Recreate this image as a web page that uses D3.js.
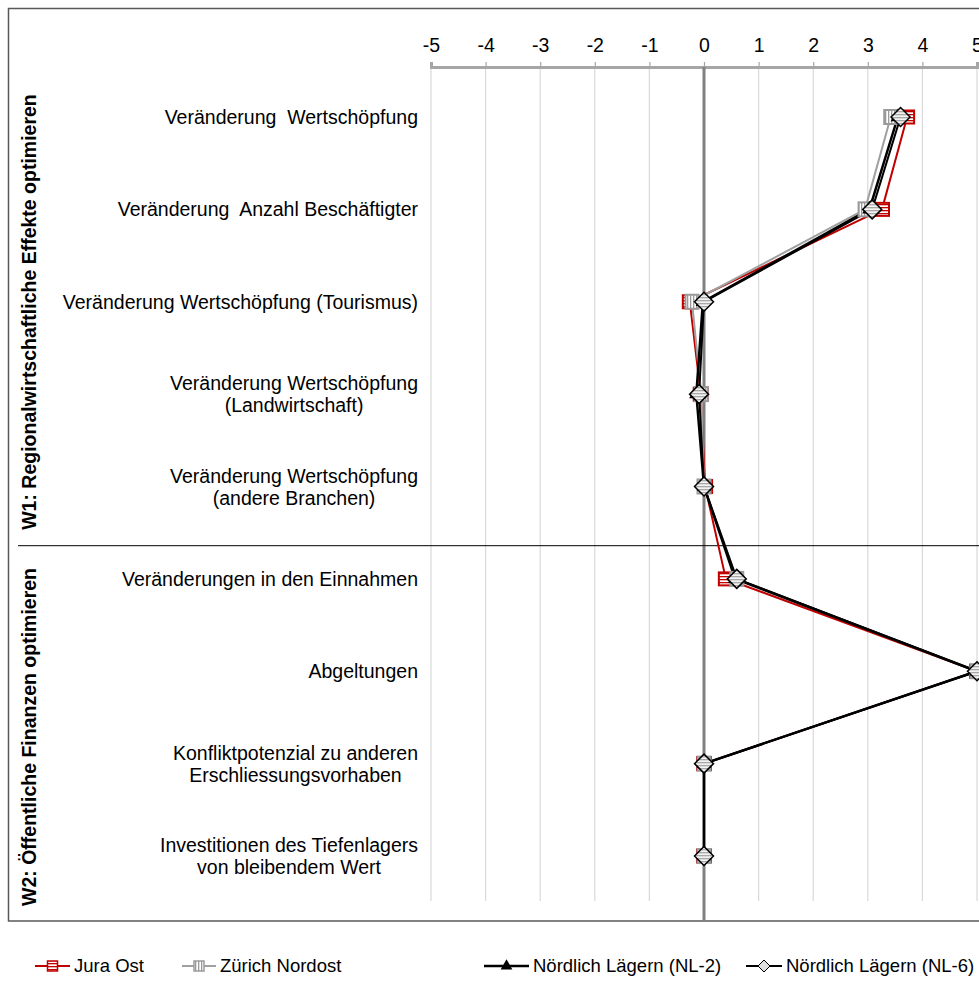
<!DOCTYPE html>
<html><head><meta charset="utf-8">
<script src="https://cdn.jsdelivr.net/npm/d3@7"></script>
<style>body{margin:0;background:#fff}svg{display:block}text{font-family:"Liberation Sans",Arial,sans-serif;fill:#000}</style>
</head><body><svg id="c" width="979" height="994"></svg>
<script>
const categories = [
  ["Veränderung  Wertschöpfung"],
  ["Veränderung  Anzahl Beschäftigter"],
  ["Veränderung Wertschöpfung (Tourismus)"],
  ["Veränderung Wertschöpfung","(Landwirtschaft)"],
  ["Veränderung Wertschöpfung","(andere Branchen)"],
  ["Veränderungen in den Einnahmen"],
  ["Abgeltungen"],
  ["Konfliktpotenzial zu anderen","Erschliessungsvorhaben"],
  ["Investitionen des Tiefenlagers","von bleibendem Wert"]
];
const groups = [
  {label:"W1: Regionalwirtschaftliche Effekte optimieren", first:0, last:4},
  {label:"W2: Öffentliche Finanzen optimieren", first:5, last:8}
];
const seriesNames = ["Jura Ost","Zürich Nordost","Nördlich Lägern (NL-2)","Nördlich Lägern (NL-6)"];
const juraOst      = [3.72, 3.26, -0.26, -0.06, 0.02, 0.40, 5, 0, 0];
const zuerichNO    = [3.42, 2.95, -0.22, -0.05, 0.00, 0.60, 5, 0, 0];
const noerdlichNL2 = [3.55, 3.03, -0.02, -0.14, 0.00, 0.57, 5, 0, 0];
const noerdlichNL6 = [3.60, 3.08,  0.00, -0.09, 0.00, 0.60, 5, 0, 0];
const xTicks = [-5,-4,-3,-2,-1,0,1,2,3,4,5];

const svg = d3.select("#c");
const FS = 19.5, LFS = 18.5;
const defs = svg.append("defs");
function stripes(id, color, bg, vertical){
  const p = defs.append("pattern").attr("id",id).attr("patternUnits","userSpaceOnUse")
    .attr("width",3).attr("height",3);
  p.append("rect").attr("width",3).attr("height",3).attr("fill",bg);
  if(vertical) p.append("rect").attr("width",1.3).attr("height",3).attr("fill",color);
  else p.append("rect").attr("width",3).attr("height",1.3).attr("fill",color);
}
stripes("pRed","#c00000","#fff",false);
stripes("pGray","#9a9a9a","#fff",true);
stripes("pDia","#a8a8a8","#f2f2f2",false);

const x = d3.scaleLinear().domain([-5,5]).range([431,977]);
const y = d3.scalePoint().domain(d3.range(categories.length)).range([117,856]);
const topY = 67, gridBottom = 901, frameBottom = 921;

// frame
svg.append("rect").attr("x",8.5).attr("y",8.5).attr("width",972).attr("height",frameBottom-8.5)
  .attr("fill","none").attr("stroke","#595959").attr("stroke-width",1.5);

// grid
svg.append("g").selectAll("line").data(xTicks.filter(d=>d!==0)).join("line")
  .attr("x1",d=>x(d)).attr("x2",d=>x(d)).attr("y1",topY).attr("y2",gridBottom)
  .attr("stroke","#d9d9d9").attr("stroke-width",1.2);

// top axis
const ax = svg.append("g").attr("transform",`translate(0,${topY})`)
  .call(d3.axisTop(x).tickValues(xTicks).tickSize(5).tickPadding(10).tickFormat(d=>String(d)));
ax.select(".domain").attr("stroke","#a6a6a6").attr("stroke-width",3);
ax.selectAll(".tick line").attr("stroke","#a6a6a6").attr("stroke-width",1.2);
ax.selectAll(".tick text").attr("font-size",FS).attr("font-family","Liberation Sans, Arial, sans-serif").attr("fill","#000");

// zero line
svg.append("line").attr("x1",x(0)).attr("x2",x(0)).attr("y1",topY).attr("y2",frameBottom)
  .attr("stroke","#808080").attr("stroke-width",3);

// group separator
svg.append("line").attr("x1",18).attr("x2",979)
  .attr("y1",(y(4)+y(5))/2+13).attr("y2",(y(4)+y(5))/2+13).attr("stroke","#000").attr("stroke-width",1);

// group labels
const gCenters = [312, 737];
groups.forEach((g,i)=>{
  svg.append("text").attr("transform",`translate(36,${gCenters[i]}) rotate(-90)`)
    .attr("text-anchor","middle").attr("font-weight","bold").attr("font-size",FS).text(g.label);
});

// category labels
const labRight = 418;
categories.forEach((lines,i)=>{
  const t = svg.append("text").attr("font-size",FS).style("white-space","pre");
  const n = lines.length, lh = 22;
  const spans = lines.map((s,k)=>t.append("tspan").attr("x",0).attr("y",y(i)+7+(k-(n-1)/2)*lh).text(s));
  const w = d3.max(spans,sp=>sp.node().getComputedTextLength());
  spans.forEach(sp=>sp.attr("x",labRight-w/2));
  t.attr("text-anchor","middle");
});

// series
const series = [
  {name:seriesNames[0], vals:juraOst, color:"#c00000", w:2, marker:"sqR"},
  {name:seriesNames[1], vals:zuerichNO, color:"#a0a0a0", w:2, marker:"sqG"},
  {name:seriesNames[2], vals:noerdlichNL2, color:"#000", w:2.5, marker:"tri"},
  {name:seriesNames[3], vals:noerdlichNL6, color:"#000", w:2, marker:"dia"}
];
const line = d3.line().x(d=>x(d[1])).y(d=>y(d[0]));
function drawMarker(g, kind, cx, cy){
  if(kind==="sqR") g.append("rect").attr("x",cx-7).attr("y",cy-6.5).attr("width",14).attr("height",13)
      .attr("fill","url(#pRed)").attr("stroke","#c00000").attr("stroke-width",2);
  else if(kind==="sqG") g.append("rect").attr("x",cx-6.5).attr("y",cy-7).attr("width",13).attr("height",14)
      .attr("fill","url(#pGray)").attr("stroke","#9a9a9a").attr("stroke-width",2);
  else if(kind==="tri") g.append("path").attr("d",d3.symbol(d3.symbolTriangle,90)()).attr("transform",`translate(${cx},${cy})`)
      .attr("fill","#000");
  else g.append("path").attr("d",`M${cx},${cy-9.5}L${cx+9.5},${cy}L${cx},${cy+9.5}L${cx-9.5},${cy}Z`)
      .attr("fill","url(#pDia)").attr("stroke","#000").attr("stroke-width",1.5);
}
series.forEach(s=>{
  svg.append("path").datum(s.vals.map((v,i)=>[i,v])).attr("d",line)
    .attr("fill","none").attr("stroke",s.color).attr("stroke-width",s.w).attr("stroke-linejoin","round");
});
series.forEach(s=>{
  const g = svg.append("g");
  s.vals.forEach((v,i)=>drawMarker(g,s.marker,x(v),y(i)));
});

// legend
const legY = 966;
const legPos = [[35,74],[182,220],[484,533],[746,786]];
series.forEach((s,i)=>{
  const [lx,tx] = legPos[i];
  const g = svg.append("g");
  g.append("line").attr("x1",lx).attr("x2",tx-4).attr("y1",legY).attr("y2",legY).attr("stroke",s.color).attr("stroke-width",s.w);
  const cx = (lx+tx-4)/2;
  if(s.marker==="dia") g.append("path").attr("d",`M${cx},${legY-6}L${cx+6},${legY}L${cx},${legY+6}L${cx-6},${legY}Z`)
      .attr("fill","#e0e0e0").attr("stroke","#000").attr("stroke-width",1);
  else if(s.marker==="tri") g.append("path").attr("d",d3.symbol(d3.symbolTriangle,60)()).attr("transform",`translate(${cx},${legY})`).attr("fill","#000");
  else if(s.marker==="sqR") g.append("rect").attr("x",cx-5).attr("y",legY-5).attr("width",10).attr("height",10).attr("fill","url(#pRed)").attr("stroke","#c00000").attr("stroke-width",1.5);
  else g.append("rect").attr("x",cx-5).attr("y",legY-5).attr("width",10).attr("height",10).attr("fill","url(#pGray)").attr("stroke","#9a9a9a").attr("stroke-width",1.5);
  g.append("text").attr("x",tx).attr("y",legY+6).attr("font-size",LFS).text(s.name);
});
</script></body></html>
